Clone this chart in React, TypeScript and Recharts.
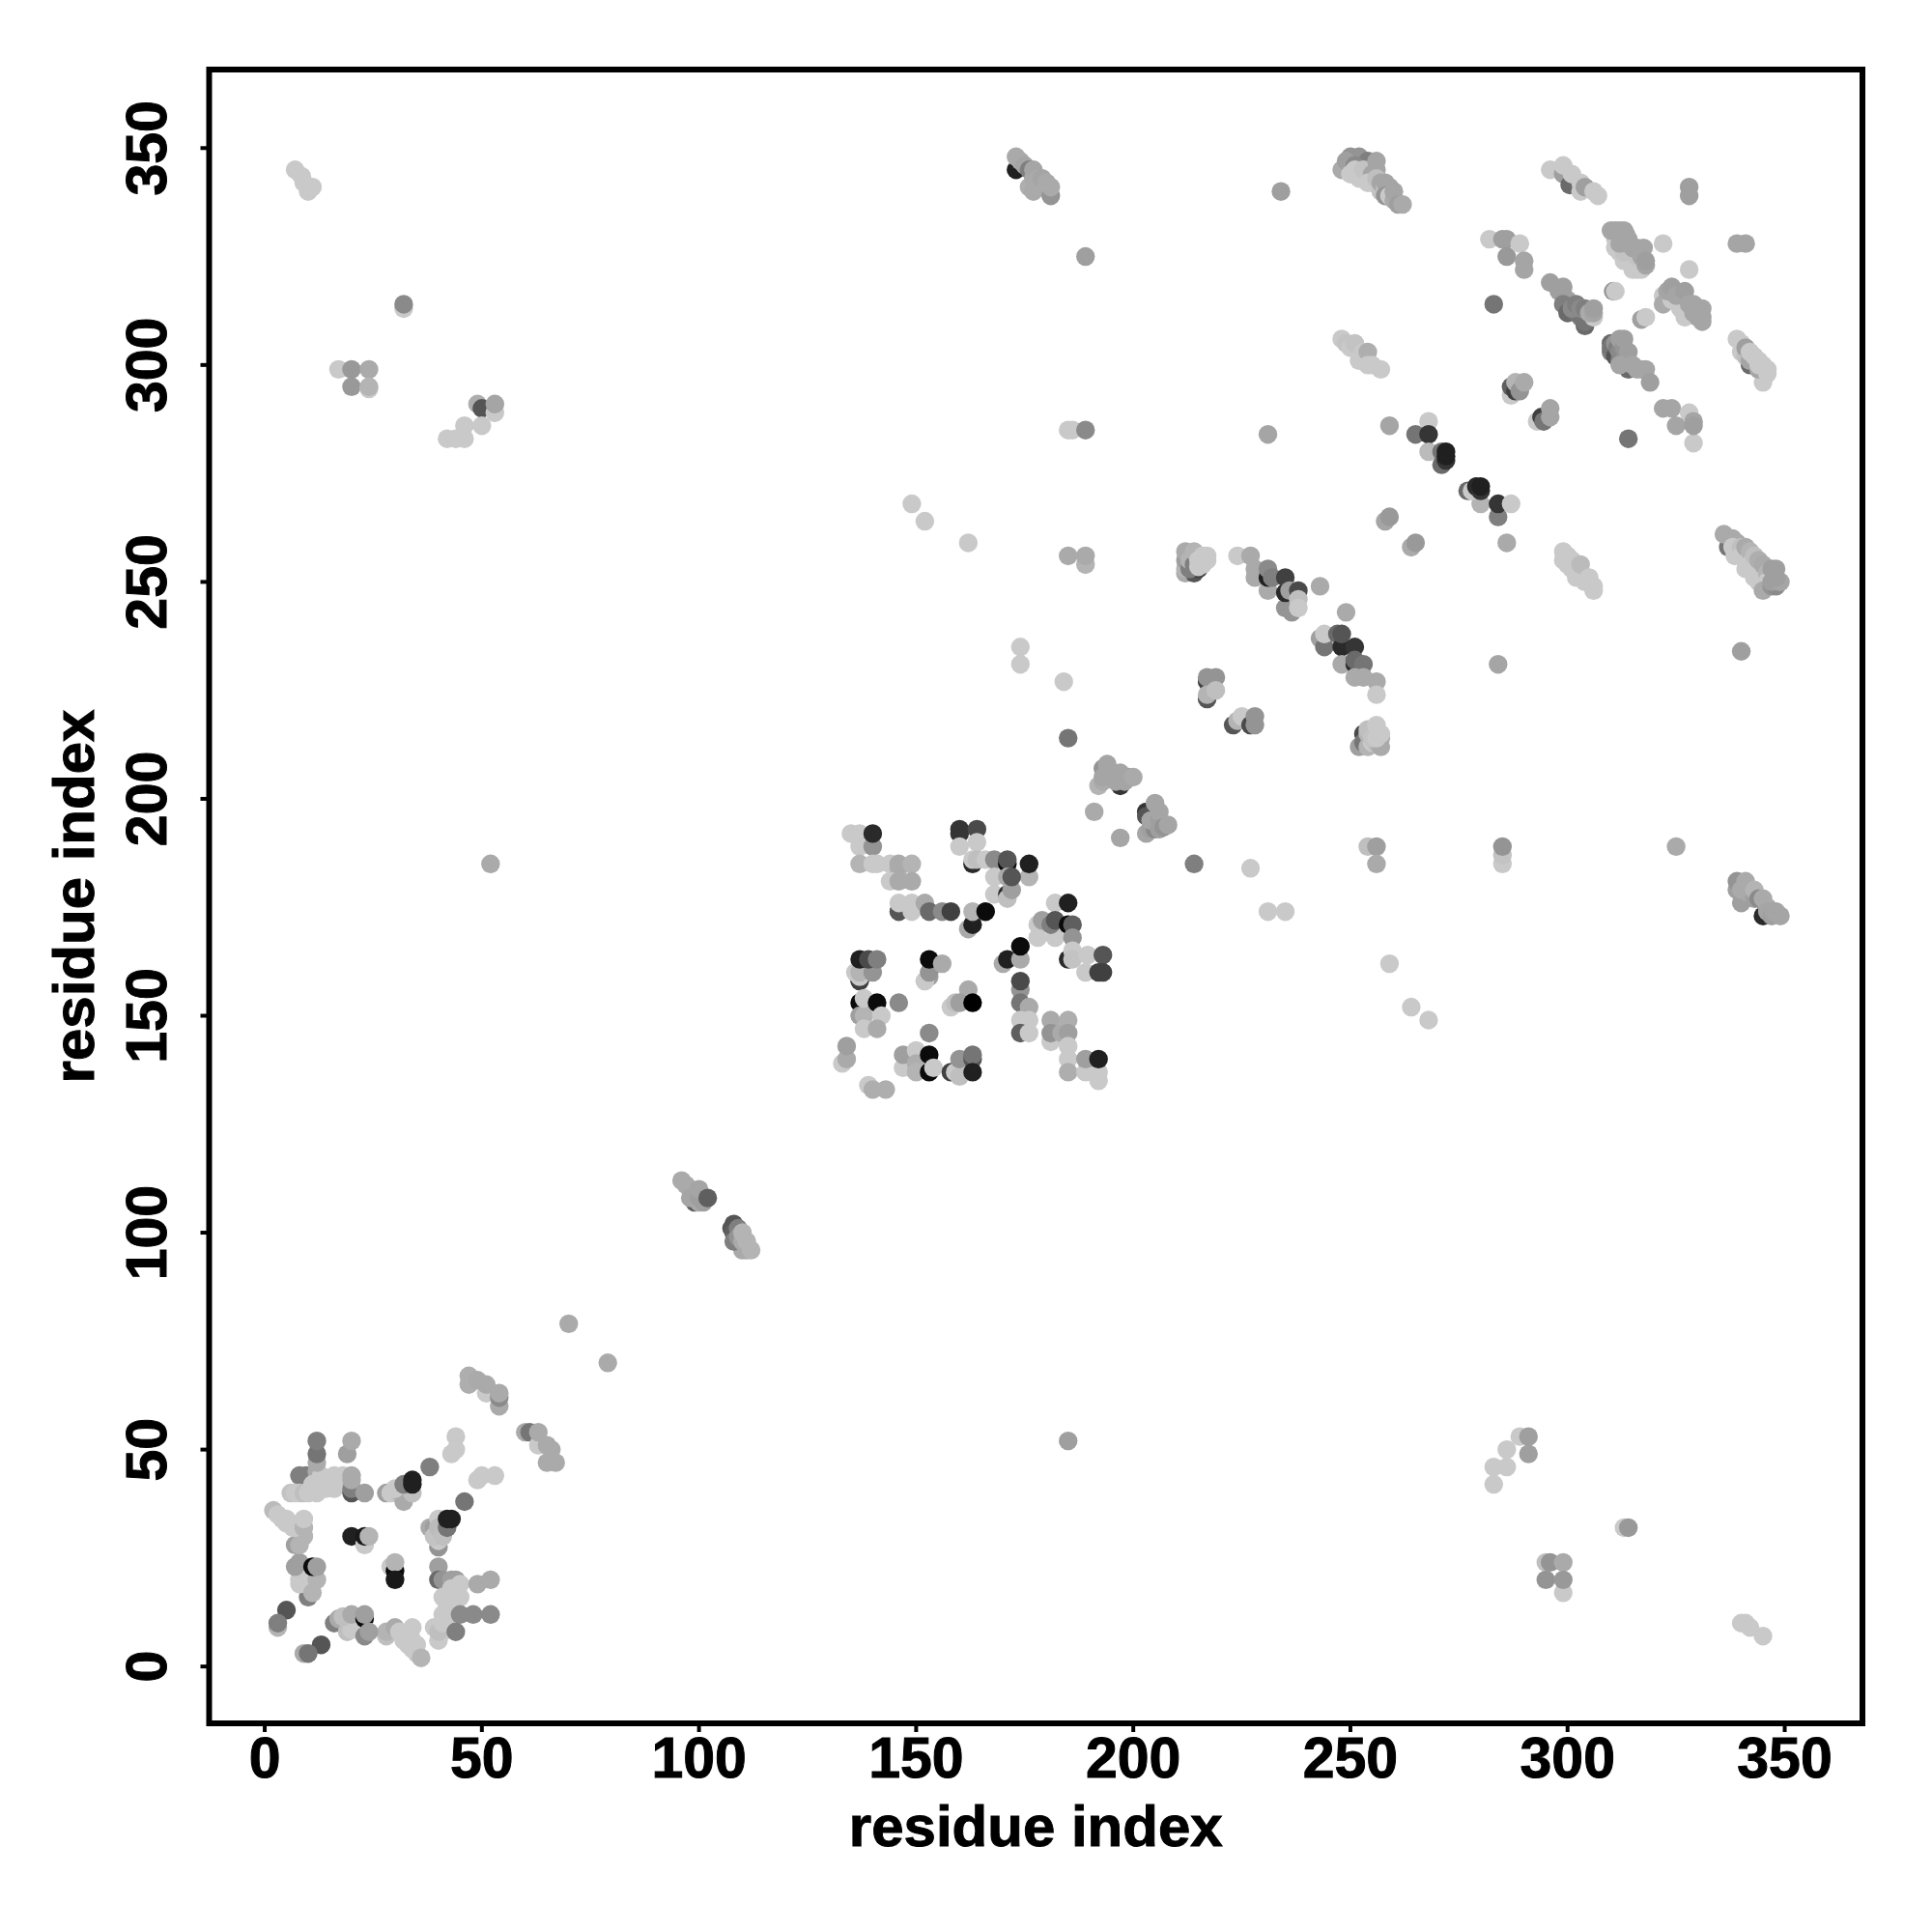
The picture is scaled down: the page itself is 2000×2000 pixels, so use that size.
import { ReferenceArea, Scatter, ScatterChart, XAxis, YAxis } from "recharts";

// [residue i, residue j, contact score 0-100]
type Contact = [number, number, number];

const axisTicks = [0, 50, 100, 150, 200, 250, 300, 350];
const axisLabel = "residue index";

const lowerLeftBlock: Contact[] = [
  [70, 79, 20], [79, 70, 20],
  [47, 67, 18], [47, 65, 18], [49, 66, 20], [51, 63, 5], [51, 65, 20], [54, 60, 20], [54, 62, 35], [54, 63, 20],
  [60, 54, 20], [61, 54, 45], [63, 51, 5], [63, 54, 20], [65, 51, 20], [66, 50, 20], [65, 47, 20], [67, 47, 20],
  [44, 53, 5], [43, 49, 5], [44, 50, 5], [38, 46, 40],
  [28, 40, 25], [29, 40, 5], [31, 40, 10], [32, 38, 20], [30, 41, 5], [34, 40, 10], [32, 42, 40], [34, 42, 85], [34, 43, 85],
  [49, 43, 5], [50, 44, 5], [53, 44, 5], [46, 38, 45],
  [40, 27.5, 30], [38, 32, 20], [39, 32, 25], [40, 34, 5], [40, 29, 5], [39, 30, 8], [40, 32, 12], [41, 30, 10], [42, 32, 45], [42, 34, 85], [43, 34, 85],
  [20, 30, 85], [23, 28, 5], [23, 30, 88], [24, 30, 15],
  [29, 23, 5], [30, 22, 95], [30, 24, 15], [30, 20, 88],
  [40, 23, 25], [40, 20, 50], [41, 20, 30], [43, 20, 25], [44, 20, 25], [45, 19, 5], [49, 19, 20], [52, 20, 20],
  [41, 16, 5], [42, 16, 5], [45, 16, 5], [43, 16, 5], [44, 17, 5], [44, 15, 5], [43, 18, 5], [42, 14, 5], [43, 13, 5], [42, 12, 5], [42, 9, 5], [41, 8, 5],
  [40, 6, 5], [39, 9, 5], [40, 8, 10], [41, 10, 5], [41, 12, 5], [45, 12, 35], [48, 12, 35], [52, 12, 35], [44, 8, 40],
  [28, 7, 10], [28, 8, 15], [30, 9, 20], [34, 9, 5], [32, 6, 5], [33, 7, 5], [33, 5, 5], [31, 8, 5], [35, 5, 5], [34, 6, 5], [34, 4, 5], [35, 3, 5], [36, 2, 15],
  [16, 10, 40], [17, 11, 20], [19, 8, 10], [20, 8.5, 5], [18, 11.5, 10], [20, 12, 20], [23, 7, 35], [23, 11, 95], [23, 12, 25], [24, 8, 25],
  [5, 13, 60], [3, 9, 15], [3, 10, 40], [13, 5, 60], [9, 3, 20], [10, 3, 45],
  [10, 16, 40], [8, 19, 5], [8, 20, 5], [9, 20, 5], [11, 17, 15], [12, 20, 15], [7, 23, 25], [8, 24, 25], [11, 23, 95], [12, 23, 25],
  [7, 28, 25], [8, 28, 15], [9, 30, 15], [2, 36, 12], [3, 35, 5], [4, 34, 5], [5, 34, 5], [6, 33, 5], [5, 33, 5], [7, 32, 5], [6.5, 32, 5], [9, 32, 15], [9, 34, 5],
  [8, 44, 40], [9.5, 44, 40], [6, 40, 8], [7, 40, 5], [8, 40, 5], [9, 40, 10], [10, 40, 5], [12, 45, 20], [11, 42, 5], [13, 41, 5], [12, 40, 5], [13, 44, 5], [14, 43, 5], [15, 42, 5], [14, 41, 5], [16, 44, 5], [16, 41, 5], [17, 43, 5], [18, 42, 5], [18, 44, 5],
  [20, 40, 60], [20, 41, 40], [20, 43, 20], [20, 44, 20], [23, 40, 25],
  [12, 47, 20], [12, 49, 45], [12, 52, 40], [19, 49, 25], [20, 52, 20],
];

const middleBlock: Contact[] = [
  [135, 192, 5], [137, 192, 5], [137, 189, 5], [140, 189, 30], [140, 192, 80],
  [137, 185, 15], [140, 185, 5], [141, 185, 5], [144, 185, 5], [146, 184, 18], [146, 185, 20], [149, 185, 15], [144, 181, 5], [146, 181, 20], [149, 181, 20],
  [146, 174, 60], [146, 176, 5], [149, 176, 5], [149, 174, 5], [152, 176, 20], [153, 174, 50], [156, 174, 35], [158, 174, 70],
  [162, 170, 20], [163, 171, 85], [163, 174, 15], [166, 174, 95],
  [160, 192, 75], [160, 193, 75], [164, 193, 65], [160, 189, 5], [164, 190, 5],
  [163, 185, 80], [163, 186, 5], [164, 186, 10], [166, 186, 5], [168, 186, 35], [171, 185, 95], [171, 186, 60], [176, 182, 15], [176, 185, 85],
  [168, 178, 5], [168, 182, 5], [171, 178, 80], [171, 177, 10], [172, 179, 25], [171, 182, 20], [172, 182, 60],
  [182, 176, 5], [185, 176, 85], [178, 168, 5], [182, 168, 5], [178, 171, 5], [179, 172, 25], [181, 171, 40], [182, 172, 60], [185, 171, 95], [186, 171, 55], [186, 168, 30],
  [185, 163, 80], [186, 165, 5], [186, 163, 8], [189.5, 164, 5], [193, 164, 60], [189, 160, 5], [192, 160, 70], [193, 160, 70],
  [170, 162, 20], [171, 163, 85], [174, 163, 20], [174, 166, 95],
  [174, 156, 30], [174, 158, 65], [174, 153, 45], [176, 152, 20], [174, 149, 5], [176, 149, 5], [174, 146, 55], [176, 146, 5],
  [181, 144, 5], [181, 149, 20], [181, 146, 30], [183.5, 146, 20], [185, 149, 18], [185, 146, 25], [185, 143, 5], [185, 140, 5], [185, 137, 18],
  [189, 137, 5], [192, 135, 5], [192, 137, 5], [189, 140, 25], [192, 140, 85],
  [153, 159, 25], [152, 158, 5], [153, 160, 30], [153, 163, 95], [156, 162, 20],
  [137, 158, 70], [137, 159, 5], [136, 160, 5], [137, 160, 15], [140, 160, 30], [137, 163, 85], [139, 163, 65], [141, 163, 40],
  [137, 153, 95], [137, 150, 25], [138, 150, 15], [138, 154, 5], [141, 153, 95], [142, 150, 5], [146, 153, 35], [138, 147, 5], [141, 147, 20],
  [162, 156, 20], [158, 152, 5], [159, 153, 10], [160, 153, 25], [163, 153, 100],
  [153, 146, 35],
  [147, 138, 5], [147, 141, 25], [150, 142, 5], [150, 139, 18], [150, 137, 15], [153, 137, 95], [153, 141, 95], [154, 138, 5],
  [158, 137, 70], [159, 137, 5], [160, 136, 10], [160, 140, 30], [163, 140, 60], [163, 141, 45], [163, 137, 85],
  [133, 139, 5], [134, 140, 20], [134, 143, 25], [139, 134, 5], [140, 133, 18], [143, 133, 18],
];

const centreDiagonal: Contact[] = [
  [99, 107, 55], [96, 112, 20], [97, 111, 20], [98, 110, 20], [99, 109, 20], [98, 108, 22], [100, 107, 20], [100, 108, 25], [101, 107, 25], [100, 110, 22], [102, 108, 55],
  [108, 102, 60], [107.5, 101, 60], [108, 100, 55], [109, 101, 40], [110, 96, 20], [108, 98, 40], [109, 99, 30], [110, 98, 20], [110, 100, 15], [111, 96, 20], [111, 98, 15], [112, 96, 15],
  [191, 197, 20], [197, 191, 22],
  [192, 203, 15], [197, 203, 75], [193, 204, 20], [193, 207, 30], [194, 208, 22], [194, 206, 22], [193, 205, 22], [195, 205, 22], [196, 204, 22], [197, 206, 22], [198, 204, 22], [199, 205, 22], [200, 205, 20],
  [203, 197, 75], [203, 196, 60], [203, 192, 22], [204, 193, 25], [205, 193, 35], [204, 195, 22], [205, 195, 22], [205, 199, 22], [206, 195, 25], [206, 193, 25], [206, 197, 22], [207, 193.5, 30], [208, 194, 22],
  [214, 185, 40],
];

const upperBands: Contact[] = [
  [212, 252, 20], [214, 252, 60], [215, 253, 70], [212, 253, 15], [212, 255, 25], [212, 257, 20], [213, 253, 40], [213, 255, 15], [214, 254, 40], [214, 257, 15], [215, 253.5, 5], [215, 255, 5], [216, 254, 5], [216, 256, 5], [217, 255, 5], [217, 256, 5],
  [224, 256, 5], [227, 256, 20], [228, 253, 20], [228, 251, 20], [231, 248, 20], [231, 251, 85], [231, 253, 35], [232, 251, 40],
  [235, 244, 30], [236.5, 243, 30], [235, 247.5, 80], [235, 251, 70], [236, 248, 25], [238, 248, 65], [238, 246, 10], [238, 244, 5], [243, 249, 20],
  [249, 243, 20], [243, 237, 25], [244, 235, 45], [244, 238, 5], [247, 238, 50], [248, 235, 80], [248, 238, 60], [251, 235, 75],
  [248, 231, 20], [251, 231, 80], [251, 232, 50], [253, 231, 45], [251, 228, 20], [253, 228, 20], [256, 227, 20], [256, 224, 5],
  [217, 227, 70], [217, 228, 30], [219, 228, 30], [217, 223, 60], [217, 224, 15], [219, 225, 10],
  [223, 217, 60], [224, 218, 15], [225, 219, 5], [227, 217, 65], [228, 217, 30], [228, 219, 30],
  [252, 212, 25], [253, 215, 65], [253, 213, 45], [254, 212, 15], [255, 213, 5], [256, 213, 15], [257, 212, 20], [257, 214, 20], [255, 215, 70], [254, 215, 15], [254, 216, 10], [255, 214, 8], [256, 214, 5], [256, 217, 5], [257, 215, 5],
  [284, 231, 22], [286, 259, 20], [258, 264, 22], [259, 265, 28], [264, 258, 20], [265, 259, 28],
  [248, 306, 5], [249, 305, 8], [250, 304, 5], [251, 305, 8], [252, 301, 5], [253, 303, 5], [253, 301, 5], [254, 303, 18], [254, 300, 5], [255, 300, 5], [257, 299, 5],
  [299, 255, 5], [299, 257, 5], [300, 256, 5], [301, 255, 5], [300, 254, 5], [301, 253, 5], [302, 253, 5], [302, 251, 5], [303, 252, 5], [303, 254, 12], [304, 250, 5], [305, 250, 5], [305, 251, 5], [306, 248, 5], [306, 249, 5],
  [259, 286, 22], [268, 287, 5], [265, 284, 45], [268, 284, 75], [268, 280, 12],
  [271, 277, 50], [271, 280, 45], [272, 278, 75], [272, 279, 85], [272, 280, 85],
  [277, 271, 50], [280, 268, 15], [278, 271, 5], [279, 272, 80], [280, 271, 75], [280, 272, 85],
  [284, 265, 40], [284, 268, 75], [287, 268, 5],
];

const topRightBlock: Contact[] = [
  [173, 345, 85], [173, 348, 20], [174, 347, 20], [175, 346, 22], [176, 345, 40], [176, 341, 18], [177, 340, 20], [177, 343, 20], [177, 345, 22], [178, 343, 20], [179, 341, 20], [179, 343, 22], [180, 342, 20], [181, 339, 30], [181, 341, 20],
  [234, 340, 25],
  [248, 345, 20], [250, 348, 30], [252, 348, 30], [254, 347, 40], [249, 347, 25], [251, 346, 35], [250, 344, 5], [251, 345, 5], [252, 343, 5], [253, 343, 5], [253, 345, 8], [255, 342, 5], [255, 344, 22], [256, 345, 22], [256, 347, 22], [254, 342, 5], [256, 343, 10],
  [257, 340, 8], [257, 342, 22], [258, 341, 8], [258, 342, 22], [259, 341, 22], [258, 339, 30], [259, 339, 5], [260, 338, 20], [260, 340, 22], [261, 337, 25], [262, 337, 20],
  [296, 345, 5], [299, 344, 25], [299, 346, 5], [300.5, 341.5, 50], [301, 344, 5], [303, 342, 5], [303, 340, 5], [304, 341, 25], [306, 340, 5], [307, 339, 5],
  [328, 341, 25], [328, 339, 25], [339, 328, 22], [341, 328, 22], [322, 328, 5], [328, 322, 5],
  [282, 329, 5], [285, 329, 25], [286, 329, 25], [286, 325, 28], [289, 328, 5], [290, 324, 22], [290, 322, 22], [283, 314, 45],
  [315, 322, 5], [316, 322, 5], [317, 322, 5], [313, 324, 5], [314, 324, 5], [315, 323, 5], [312, 326, 5], [311, 327, 5], [311, 329, 5], [313, 328, 5], [316, 325, 8], [313, 326, 8],
  [310, 331, 22], [311, 331, 22], [312, 331, 22], [313, 331, 22], [312, 328, 22], [314, 328, 22], [314, 329, 22], [313.5, 330, 22], [315, 327, 22], [316, 327, 22], [317, 325, 22], [317.5, 327, 22], [318, 323, 22], [318, 324, 25],
  [296, 319, 25], [298, 317, 25], [299, 318, 25], [300, 315, 22], [299, 316, 25], [299, 314, 40], [300, 312, 50], [303, 311, 40], [304, 309, 50], [304, 310, 45], [302, 312, 45], [301, 313, 35], [302, 314, 40], [303, 313, 35], [306, 311, 5], [304, 313, 40], [305, 312, 20], [306, 312, 22], [306, 313, 25],
  [310.5, 317, 30], [311, 317, 5], [317, 310.5, 25], [318, 311, 5],
  [322, 316, 5], [322, 314, 20], [324, 315, 5], [325, 314.5, 5], [326, 315, 5], [326, 313, 5], [327, 311, 5], [328, 313, 5], [323, 317, 22], [324, 318, 25], [325, 316, 22], [327, 317, 25], [328, 314, 22], [329, 312, 22], [329, 314, 22], [330, 311, 22], [330, 313, 22], [331, 311, 22], [331, 313, 22], [331, 310, 22],
  [345, 296, 5], [339, 306, 5], [340, 305, 5], [340, 303, 5], [342, 300, 50], [341, 302, 10], [341, 304, 25], [342, 301, 22], [342, 303, 5], [343, 302, 5], [344, 299, 22], [344, 300, 5], [344, 301, 5], [345, 300, 5], [346, 298, 5], [346, 299, 5],
  [310, 303, 40], [310, 305, 50], [310, 304, 45], [311, 302, 60], [311, 305, 30], [311.5, 304, 40], [312, 301, 40], [312, 303, 35], [312, 306, 25], [313, 301, 30], [313, 304, 30], [313, 306, 25], [314, 303, 25], [314, 299, 50], [312, 300, 22], [315, 300, 22], [316, 299, 22], [317, 299, 22], [318, 299, 22], [319, 296, 25],
  [322, 290, 22], [324, 290, 22], [328, 289, 5], [329, 282, 5], [325, 286, 22], [329, 287, 22], [329, 286, 25], [314, 283, 45],
  [287, 293, 5], [287, 295, 55], [288, 294, 70], [288, 296, 15], [289, 294, 30], [290, 296, 20],
  [293, 287, 5], [294, 288, 70], [294.5, 287, 45], [296, 288, 22], [296, 290, 22],
  [337, 258, 45], [336, 261, 20], [338, 260, 20], [339, 259, 20], [338, 258, 5], [339, 257, 5], [338.5, 256, 5], [340, 258, 10], [340, 256, 5], [341, 258, 20], [342, 257, 15], [341, 253, 5], [342, 254, 5], [343, 256, 10], [343, 251, 5], [344, 252, 5], [344, 250, 5], [344, 255, 18], [345, 254, 20], [346, 252, 15], [346, 250, 5], [345, 248, 20], [347, 249, 30], [348, 249, 35], [347, 250, 25], [349, 250, 22], [347, 253, 25], [348, 253, 25], [348, 251, 25],
  [340, 234, 25],
  [345, 173, 80], [339, 179, 25], [339, 181, 30], [341, 177, 20], [341, 181, 20], [340, 176, 25], [340, 179, 20], [342, 178, 20], [343, 177, 25], [343, 179, 15], [344, 177, 35], [345, 177, 20], [346, 175, 20], [346, 174, 22], [347, 173, 25], [347.5, 174, 22], [348, 174, 22], [349, 173, 22],
];

const scatteredContacts: Contact[] = [
  [7, 345, 5], [8.5, 343.5, 5], [9, 342, 5], [10, 340, 5], [11, 341, 5],
  [32, 313, 5], [32, 314, 35], [17, 299, 5], [20, 299, 28], [24, 299, 20], [20, 295, 28], [24, 294.5, 5], [24, 295, 15],
  [49, 291, 18], [50, 290, 60], [53, 289, 5], [53, 291, 22], [50, 286, 5], [46, 286, 5], [42, 283, 5], [44, 283, 5], [46, 283, 5],
  [52, 185, 20], [189, 325, 25], [185, 285, 5], [186, 285, 5], [189, 285, 35],
  [231, 284, 22], [149, 268, 5], [152, 264, 5], [162, 259, 5], [185, 256, 20], [189, 254, 15], [189, 256, 20],
  [174, 235, 5], [174, 231, 5], [184, 227, 5], [185, 214, 45],
  [227, 184, 5], [231, 174, 5], [235, 174, 5], [259, 162, 5], [264, 152, 5], [268, 149, 5],
  [254, 189, 10], [256, 189, 25], [256, 185, 20], [285, 185, 5], [285, 187, 8], [285, 189, 30], [325, 189, 20],
  [185, 52, 25],
  [283, 42, 5], [283, 46, 5], [286, 46, 5], [286, 50, 5], [289, 53, 5], [291, 53, 25], [291, 49, 25],
  [295, 24, 10], [296, 24, 30], [299, 24, 20], [295, 20, 30], [299, 17, 5], [299, 20, 28],
  [313, 32, 5], [314, 32, 28], [340, 10, 5], [341, 10, 5], [342, 9, 5], [345, 7, 5],
];

const contactGroups = [lowerLeftBlock, middleBlock, centreDiagonal, upperBands, topRightBlock, scatteredContacts];

const FONT = "'Liberation Sans', Arial, sans-serif";
const xDomain = [-12.8, 367.9];
const yDomain = [-13.1, 368.1];

function scoreToGrey(score: number) {
  const v = Math.round(212 * (1 - score / 100));
  return `rgb(${v},${v},${v})`;
}

function ContactDot(props: any) {
  return <circle cx={props.cx} cy={props.cy} r={9.7} fill={scoreToGrey(props.payload.score)} />;
}

function XTick({ x, payload }: any) {
  return (
    <text x={x} y={1840} textAnchor="middle" fontFamily={FONT} fontWeight="bold" fontSize={59} fill="#000" stroke="#000" strokeWidth={1}>
      {payload.value}
    </text>
  );
}

function YTick({ y, payload }: any) {
  return (
    <text
      x={172}
      y={y}
      transform={`rotate(-90 172 ${y})`}
      textAnchor="middle"
      fontFamily={FONT}
      fontWeight="bold"
      fontSize={59}
      fill="#000"
      stroke="#000"
      strokeWidth={1}
    >
      {payload.value}
    </text>
  );
}

export default function App() {
  return (
    <div style={{ position: "absolute", left: 0, top: 0, width: 2000, height: 2000, background: "#fff" }}>
      <ScatterChart width={2000} height={2000} margin={{ top: 72, right: 72, bottom: 0, left: 0 }}>
        <XAxis
          type="number"
          dataKey="i"
          domain={xDomain}
          ticks={axisTicks}
          height={216}
          interval={0}
          tick={<XTick />}
          tickSize={9}
          tickLine={{ stroke: "#000", strokeWidth: 4 }}
          axisLine={false}
          allowDataOverflow
          label={{
            value: axisLabel,
            position: "insideBottom",
            offset: 89,
            fontFamily: FONT,
            fontWeight: "bold",
            fontSize: 60,
            fill: "#000",
            stroke: "#000",
            strokeWidth: 1,
          }}
        />
        <YAxis
          type="number"
          dataKey="j"
          domain={yDomain}
          ticks={axisTicks}
          width={216.5}
          interval={0}
          tick={<YTick />}
          tickSize={9}
          tickLine={{ stroke: "#000", strokeWidth: 4 }}
          axisLine={false}
          allowDataOverflow
          label={{
            value: axisLabel,
            angle: -90,
            position: "insideLeft",
            offset: 76,
            fontFamily: FONT,
            fontWeight: "bold",
            fontSize: 60,
            fill: "#000",
            stroke: "#000",
            strokeWidth: 1,
            style: { textAnchor: "middle" },
          }}
        />
        <ReferenceArea
          x1={xDomain[0]}
          x2={xDomain[1]}
          y1={yDomain[0]}
          y2={yDomain[1]}
          fill="none"
          stroke="#000"
          strokeWidth={6}
          ifOverflow="visible"
        />
        {contactGroups.map((group, index) => (
          <Scatter
            key={index}
            data={group.map(([i, j, score]) => ({ i, j, score }))}
            shape={<ContactDot />}
            isAnimationActive={false}
          />
        ))}
      </ScatterChart>
    </div>
  );
}
